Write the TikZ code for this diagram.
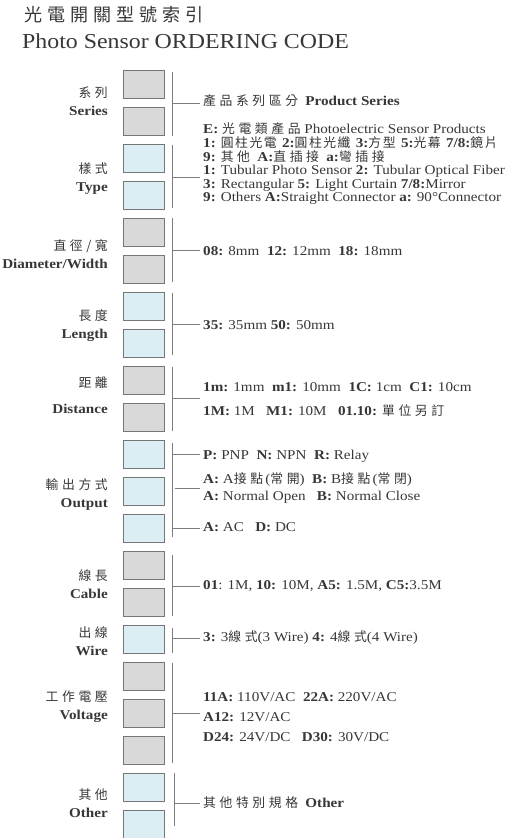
\documentclass[tikz,border=0pt]{standalone}
\usepackage{fontspec}
\setmainfont{Liberation Serif}[FakeStretch=1.12]
\newfontfamily\cjk[LetterSpace=28,Scale=0.95]{Noto Sans CJK TC}
\newfontfamily\cjktight[LetterSpace=12,Scale=0.95]{Noto Sans CJK TC}
\usetikzlibrary{positioning, calc}
\definecolor{slotgray}{RGB}{217, 217, 217}
\definecolor{slotblue}{RGB}{219, 238, 244}
\definecolor{slotedge}{RGB}{118, 118, 118}
\definecolor{inkgray}{RGB}{55, 55, 55}
\definecolor{railgray}{RGB}{125, 125, 125}
\newcommand{\zh}[1]{{\cjk #1}}
\newcommand{\zht}[1]{{\cjktight #1}}
\tikzset{
  slot/.style={
    draw=slotedge,
    line width=0.9pt,
    minimum width=41pt,
    minimum height=28pt,
    inner sep=0pt
  },
  grouplabel/.style={
    anchor=east,
    align=right,
    inner sep=0pt,
    text=inkgray,
    font=\fontsize{13.5}{18}\selectfont
  },
  codetext/.style={
    anchor=west,
    align=left,
    inner xsep=3pt,
    inner ysep=0pt,
    text=inkgray,
    font=\fontsize{13.5}{13.6}\selectfont
  },
  rail/.style={
    draw=railgray,
    line width=0.8pt
  }
}

\begin{document}
\begin{tikzpicture}[x=1pt, y=-1pt]
  \useasboundingbox (0,0) rectangle (516,838);

  % title
  \node[anchor=west, inner sep=0pt, text=inkgray, font=\fontsize{19}{19}\selectfont] (title) at (24,15) {\zh{光電開關型號索引}};
  \node[anchor=west, inner sep=0pt, text=inkgray, font=\fontsize{21.3}{22}\selectfont] (subtitle) at (22,41) {Photo Sensor ORDERING CODE};

  % code slots
  \foreach \i/\c in {0/slotgray, 1/slotgray, 2/slotblue, 3/slotblue, 4/slotgray, 5/slotgray,
                     6/slotblue, 7/slotblue, 8/slotgray, 9/slotgray, 10/slotblue, 11/slotblue,
                     12/slotblue, 13/slotgray, 14/slotgray, 15/slotblue, 16/slotgray, 17/slotgray,
                     18/slotgray, 19/slotblue, 20/slotblue}
    \node[slot, fill=\c] (b\i) at (144, 84+37*\i) {};

  % group labels
  \node[grouplabel] (lseries) at (108,101) {\zh{系列}\\\textbf{Series}};
  \node[grouplabel] (ltype) at (108,179) {\zh{樣式}\\\textbf{Type}};
  \node[grouplabel] (ldiam) at (108,254) {\zh{直徑/寬}\\\textbf{Diameter/Width}};
  \node[grouplabel] (llength) at (108,326) {\zh{長度}\\\textbf{Length}};
  \node[grouplabel] (ldist) at (108,395) {\zh{距離}\\[8pt]\textbf{Distance}};
  \node[grouplabel] (loutput) at (108,494) {\zh{輸出方式}\\\textbf{Output}};
  \node[grouplabel] (lcable) at (108,584) {\zh{線長}\\\textbf{Cable}};
  \node[grouplabel] (lwire) at (108,641) {\zh{出線}\\\textbf{Wire}};
  \node[grouplabel] (lvolt) at (108,707) {\zh{工作電壓}\\\textbf{Voltage}};
  \node[grouplabel] (lother) at (108,803) {\zh{其他}\\\textbf{Other}};

  % code texts
  \node[codetext] (tseries) at (200,101) {\zh{產品系列區分} \textbf{Product Series}};
  \node[codetext] (ttype) at (200,164) {\textbf{E:} \zh{光電類產品} Photoelectric Sensor Products\\
    \textbf{1:} \zht{圓柱光電} \textbf{2:}\zht{圓柱光纖} \textbf{3:}\zht{方型} \textbf{5:}\zht{光幕} \textbf{7/8:}\zht{鏡片}\\
    \textbf{9:} \zh{其他} \textbf{A:}\zh{直插接} \textbf{a:}\zh{彎插接}\\
    \textbf{1:} Tubular Photo Sensor \textbf{2:} Tubular Optical Fiber\\
    \textbf{3:} Rectangular \textbf{5:} Light Curtain \textbf{7/8:}Mirror\\
    \textbf{9:} Others \textbf{A:}Straight Connector \textbf{a:} 90°Connector};
  \node[codetext] (tdiam) at (200,251) {\textbf{08:} 8mm\ \ \textbf{12:} 12mm\ \ \textbf{18:} 18mm};
  \node[codetext] (tlength) at (200,325) {\textbf{35:} 35mm \textbf{50:} 50mm};
  \node[codetext, font=\fontsize{13.5}{24}\selectfont] (tdist) at (200,400) {\textbf{1m:} 1mm\ \ \textbf{m1:} 10mm\ \ \textbf{1C:} 1cm\ \ \textbf{C1:} 10cm\\
    \textbf{1M:} 1M\ \ \ \textbf{M1:} 10M\ \ \ \textbf{01.10:} \zh{單位另訂}};
  \node[codetext] (tpnp) at (200,456) {\textbf{P:} PNP\ \ \textbf{N:} NPN\ \ \textbf{R:} Relay};
  \node[codetext, font=\fontsize{13.5}{17}\selectfont] (tcontact) at (200,488.5) {\textbf{A:} A\zh{接點}\,(\zh{常開})\ \ \textbf{B:} B\zh{接點}\,(\zh{常閉})\\
    \textbf{A:} Normal Open\ \ \ \textbf{B:} Normal Close};
  \node[codetext] (tpower) at (200,527) {\textbf{A:} AC\ \ \ \textbf{D:} DC};
  \node[codetext] (tcable) at (200,586) {\textbf{01}: 1M, \textbf{10:} 10M, \textbf{A5:} 1.5M, \textbf{C5:}3.5M};
  \node[codetext] (twire) at (200,638) {\textbf{3:} 3\zh{線式}(3 Wire) \textbf{4:} 4\zh{線式}(4 Wire)};
  \node[codetext, font=\fontsize{13.5}{20}\selectfont] (tvolt) at (200,717) {\textbf{11A:} 110V/AC\ \ \textbf{22A:} 220V/AC\\
    \textbf{A12:} 12V/AC\\
    \textbf{D24:} 24V/DC\ \ \ \textbf{D30:} 30V/DC};
  \node[codetext] (tother) at (200,803) {\zh{其他特別規格} \textbf{Other}};

  % rails and stubs
  \draw[rail] ($(b0.north east)+(7,2)$) -- ($(b1.south east)+(7,1)$);
  \draw[rail] (172,103) -- (172,103 -| tseries.west);
  \draw[rail] ($(b2.north east)+(7,1)$) -- ($(b3.south east)+(7,-1)$);
  \draw[rail] (172,177) -- (172,177 -| ttype.west);
  \draw[rail] ($(b4.north east)+(7,0)$) -- ($(b5.south east)+(7,-1)$);
  \draw[rail] (172,250) -- (172,250 -| tdiam.west);
  \draw[rail] ($(b6.north east)+(7,1)$) -- ($(b7.south east)+(7,-2)$);
  \draw[rail] (172,324) -- (172,324 -| tlength.west);
  \draw[rail] ($(b8.north east)+(7,1)$) -- ($(b9.south east)+(7,0)$);
  \draw[rail] (172,398) -- (172,398 -| tdist.west);
  \draw[rail] ($(b10.north east)+(7,3)$) -- ($(b12.south east)+(7,-5)$);
  \draw[rail] (172,454) -- (172,454 -| tpnp.west);
  \draw[rail] (175,488) -- (175,488 -| tcontact.west);
  \draw[rail] (172,528) -- (172,528 -| tpower.west);
  \draw[rail] ($(b13.north east)+(7,4)$) -- ($(b14.south east)+(7,0)$);
  \draw[rail] (172,586) -- (172,586 -| tcable.west);
  \draw[rail] ($(b15.north east)+(7,3)$) -- ($(b15.south east)+(7,0)$);
  \draw[rail] (172,638) -- (172,638 -| twire.west);
  \draw[rail] ($(b16.north east)+(7,1)$) -- ($(b18.south east)+(7,-1)$);
  \draw[rail] (172,713) -- (172,713 -| tvolt.west);
  \draw[rail] ($(b19.north east)+(9,0)$) -- ($(b20.south east)+(9,-12)$);
  \draw[rail] (175,803) -- (175,803 -| tother.west);
\end{tikzpicture}
\end{document}
